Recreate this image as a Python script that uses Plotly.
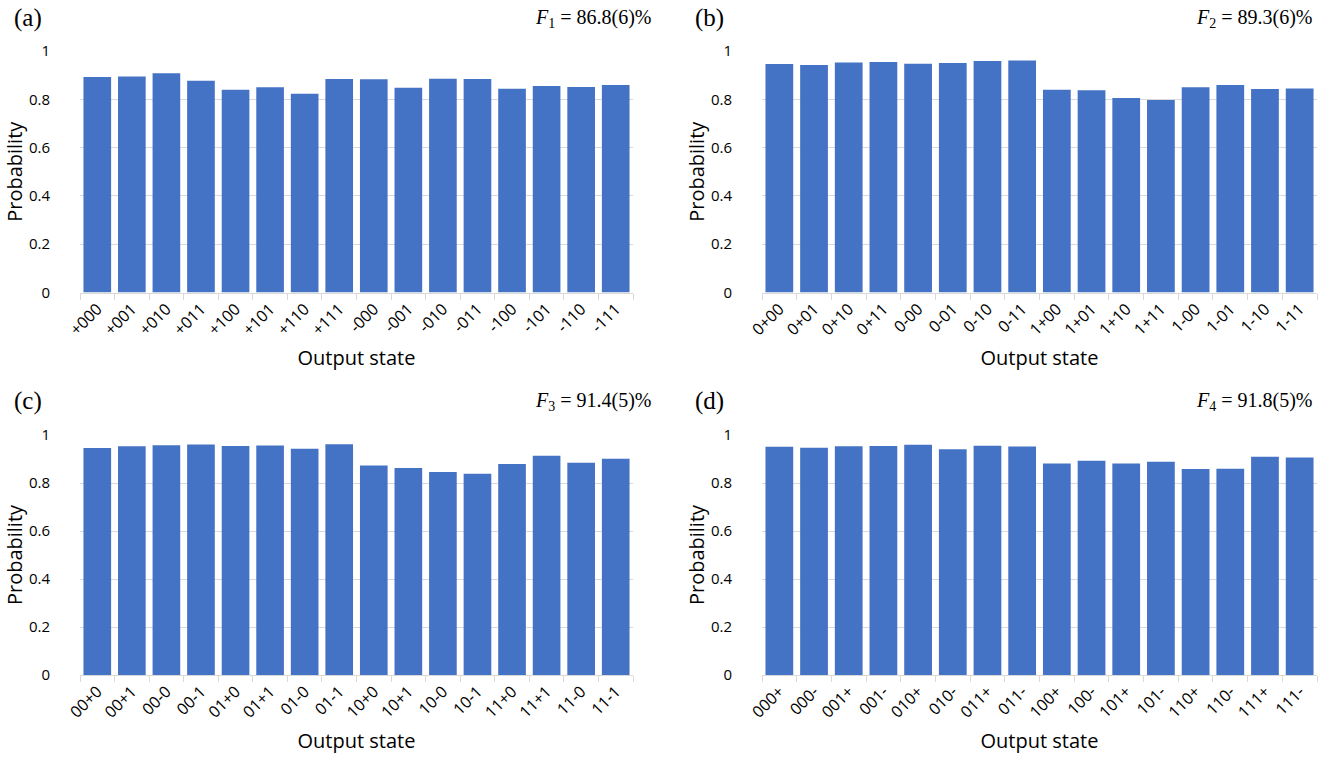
import plotly.graph_objects as go

cats_a = ["+000", "+001", "+010", "+011", "+100", "+101", "+110", "+111",
          "-000", "-001", "-010", "-011", "-100", "-101", "-110", "-111"]
vals_a = [0.892, 0.894, 0.908, 0.877, 0.840, 0.850, 0.823, 0.884,
          0.883, 0.848, 0.885, 0.884, 0.844, 0.855, 0.851, 0.859]

cats_b = ["0+00", "0+01", "0+10", "0+11", "0-00", "0-01", "0-10", "0-11",
          "1+00", "1+01", "1+10", "1+11", "1-00", "1-01", "1-10", "1-11"]
vals_b = [0.946, 0.942, 0.952, 0.954, 0.947, 0.950, 0.959, 0.961,
          0.840, 0.837, 0.805, 0.797, 0.850, 0.859, 0.843, 0.845]

cats_c = ["00+0", "00+1", "00-0", "00-1", "01+0", "01+1", "01-0", "01-1",
          "10+0", "10+1", "10-0", "10-1", "11+0", "11+1", "11-0", "11-1"]
vals_c = [0.946, 0.953, 0.957, 0.960, 0.954, 0.956, 0.943, 0.961,
          0.873, 0.863, 0.846, 0.839, 0.879, 0.914, 0.884, 0.901]

cats_d = ["000+", "000-", "001+", "001-", "010+", "010-", "011+", "011-",
          "100+", "100-", "101+", "101-", "110+", "110-", "111+", "111-"]
vals_d = [0.951, 0.947, 0.953, 0.954, 0.959, 0.941, 0.955, 0.952,
          0.881, 0.893, 0.881, 0.889, 0.858, 0.859, 0.909, 0.906]

panel_labels = ["(a)", "(b)", "(c)", "(d)"]
fidelities = ["<i>F</i><sub>1</sub> = 86.8(6)%", "<i>F</i><sub>2</sub> = 89.3(6)%",
              "<i>F</i><sub>3</sub> = 91.4(5)%", "<i>F</i><sub>4</sub> = 91.8(5)%"]
x_title = "Output state"
y_title = "Probability"

W, H = 1339, 768
BAR = "#4472C4"
GRID = "#d9d9d9"
SANS = "Open Sans, Noto Sans, sans-serif"
SERIF = "Liberation Serif, Times New Roman, serif"

# pixel boxes: (x0, x1, ytop, ybottom)
boxes = [(80, 633, 51, 292.5), (762, 1317, 51, 292.5),
         (80, 633, 435, 675), (762, 1317, 435, 675)]

data = [(cats_a, vals_a), (cats_b, vals_b), (cats_c, vals_c), (cats_d, vals_d)]

fig = go.Figure()
layout = {}
annotations = []
for i, ((cats, vals), (x0, x1, yt, yb)) in enumerate(zip(data, boxes)):
    n = "" if i == 0 else str(i + 1)
    fig.add_trace(go.Bar(x=cats, y=vals, marker=dict(color=BAR, line=dict(width=0)),
                         xaxis="x" + n, yaxis="y" + n, width=0.8, showlegend=False))
    layout["xaxis" + n] = dict(
        type="category", automargin=False,
        domain=[x0 / W, x1 / W], anchor="y" + n,
        showline=True, linecolor=GRID, linewidth=1,
        ticks="outside", tickson="boundaries", ticklen=6, tickcolor=GRID,
        tickangle=-45, tickfont=dict(family=SANS, size=16, color="#000"),
        title=dict(text=x_title, font=dict(family=SANS, size=20, color="#000"), standoff=12),
        showgrid=False, fixedrange=True,
    )
    layout["yaxis" + n] = dict(
        automargin=False,
        domain=[1 - yb / H, 1 - yt / H], anchor="x" + n,
        range=[0, 1], dtick=0.2, showgrid=True, gridcolor=GRID, gridwidth=1,
        zeroline=False, showline=False,
        ticks="outside", ticklen=26, tickcolor="rgba(0,0,0,0)",
        tickfont=dict(family=SANS, size=15, color="#000"),
        title=dict(text=y_title, font=dict(family=SANS, size=20, color="#000"), standoff=0),
        fixedrange=True,
    )
    lx = 12 if x0 < 400 else 693
    ly = 18 if yt < 300 else 401
    annotations.append(dict(text=panel_labels[i], x=lx / W, y=1 - ly / H, xref="paper", yref="paper",
                            xanchor="left", yanchor="middle", showarrow=False,
                            font=dict(family=SERIF, size=25, color="#000")))
    rx = 653 if x0 < 400 else 1314
    annotations.append(dict(text=fidelities[i], x=rx / W, y=1 - ly / H, xref="paper", yref="paper",
                            xanchor="right", yanchor="middle", showarrow=False,
                            font=dict(family=SERIF, size=20, color="#000")))

fig.update_layout(**layout)
fig.update_layout(width=W, height=H, margin=dict(l=0, r=0, t=0, b=0, autoexpand=False),
                  paper_bgcolor="white", plot_bgcolor="white",
                  bargap=0.2, annotations=annotations)
fig.write_html("out.html", config={"displayModeBar": False},
               post_script="document.body.style.margin='0';")
